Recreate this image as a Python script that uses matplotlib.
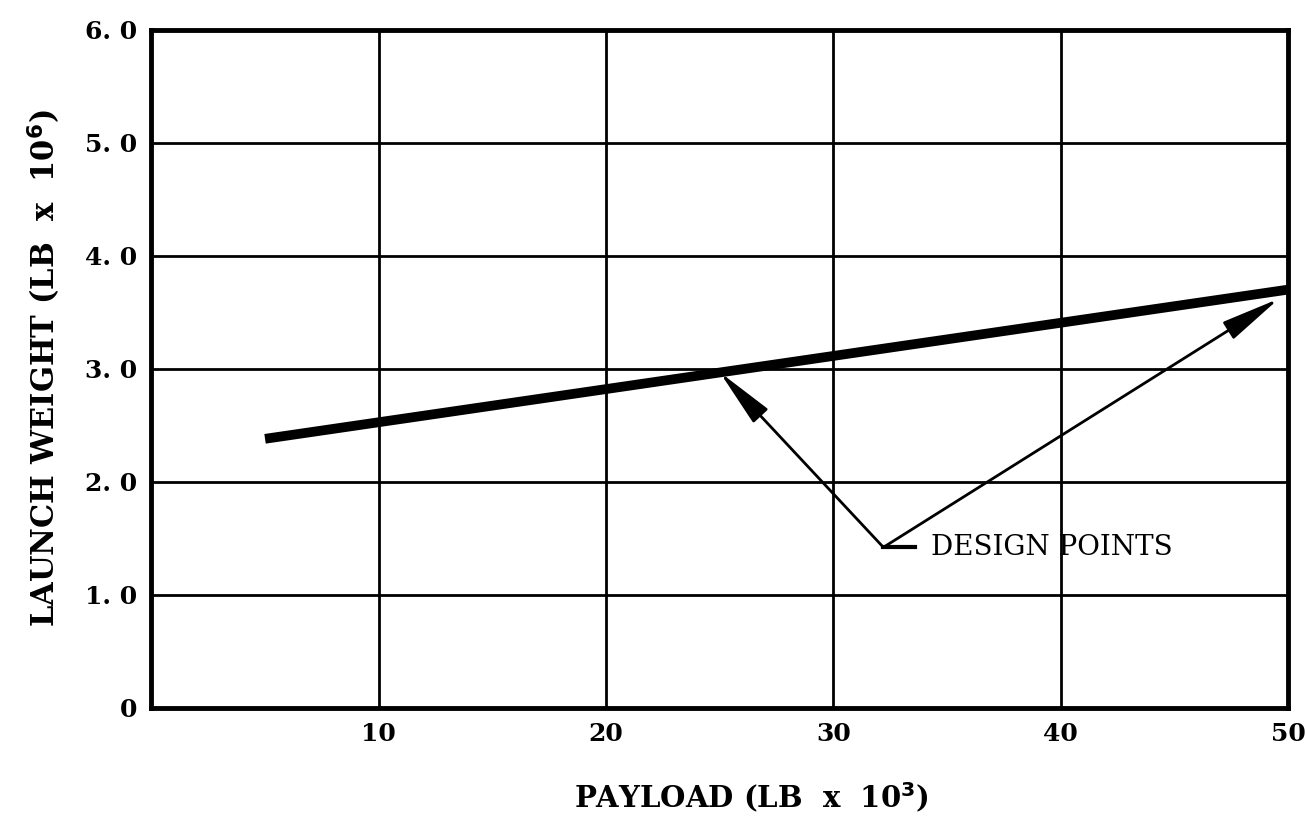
import matplotlib.pyplot as plt

# data
payload = [5, 50]            # LB x 10^3
launch_weight = [2.38, 3.70]  # LB x 10^6
design_x = [25.0, 49.6]
design_y = [2.97, 3.62]
label_x, label_y = 32.2, 1.42

x_ticks = [10, 20, 30, 40, 50]
y_ticks = [0, 1, 2, 3, 4, 5, 6]
y_tick_labels = ["0", "1. 0", "2. 0", "3. 0", "4. 0", "5. 0", "6. 0"]

plt.rcParams["font.family"] = ["DejaVu Serif"]
plt.rcParams["font.weight"] = "bold"

fig = plt.figure(figsize=(13.05, 8.24), dpi=100)
ax = fig.add_axes([0.116, 0.141, 0.871, 0.823])

ax.set_xlim(0, 50)
ax.set_ylim(0, 6)
ax.set_xticks(x_ticks)
ax.set_yticks(y_ticks)
ax.set_yticklabels(y_tick_labels)
ax.tick_params(length=0, labelsize=18, pad=10)
for lab in ax.get_xticklabels() + ax.get_yticklabels():
    lab.set_fontweight("bold")

ax.grid(True, color="black", lw=2)
for s in ax.spines.values():
    s.set_linewidth(3.5)

ax.plot(payload, launch_weight, color="black", lw=7, solid_capstyle="butt", zorder=3)

for dx, dy in zip(design_x, design_y):
    ax.annotate("", xy=(dx, dy), xytext=(label_x, label_y),
                arrowprops=dict(arrowstyle="-|>,head_length=1.3,head_width=0.22",
                                mutation_scale=28, lw=2, color="black",
                                shrinkA=0, shrinkB=0), zorder=4)
ax.plot([label_x, label_x + 1.4], [label_y, label_y], color="black", lw=3, zorder=4)
ax.text(label_x + 2.1, label_y, "DESIGN POINTS", fontsize=20, va="center", ha="left",
        fontweight="normal")

ax.set_xlabel("PAYLOAD (LB  x  10$^\\mathbf{3}$)", fontsize=21, fontweight="bold")
ax.xaxis.set_label_coords(0.528, -0.108)
ax.set_ylabel("LAUNCH WEIGHT (LB  x  10$^\\mathbf{6}$)", fontsize=22, fontweight="bold", labelpad=16)

fig.savefig("out.png", dpi=100)
